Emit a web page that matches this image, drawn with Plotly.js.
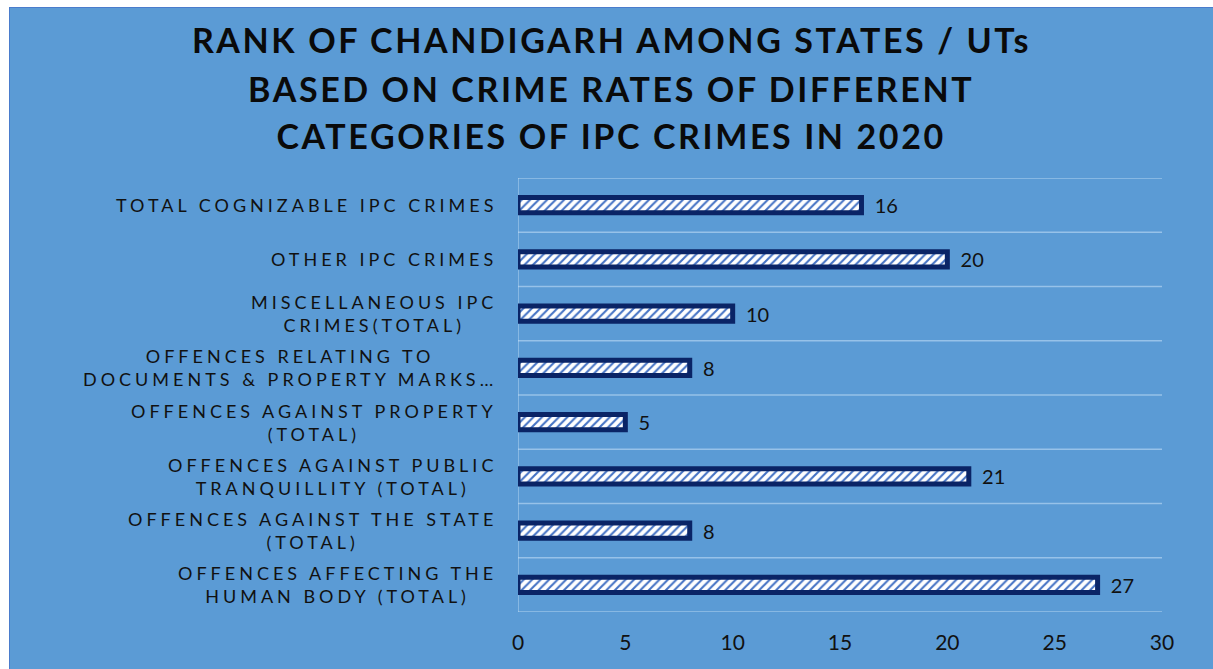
<!DOCTYPE html>
<html>
<head>
<meta charset="utf-8">
<script src="https://cdn.plot.ly/plotly-3.0.1.min.js"></script>
<style>
  html, body { margin: 0; padding: 0; background: #ffffff; }
  #chart { position: absolute; left: 9px; top: 7px; width: 1204px; height: 662px;
           border-top: 1px solid #4a7ccc; border-left: 1px solid #4a7ccc; box-sizing: border-box; }
  .annotation-text { letter-spacing: 4px; }
  .annotation[data-index="8"] .annotation-text,
  .annotation[data-index="9"] .annotation-text,
  .annotation[data-index="10"] .annotation-text { letter-spacing: 2.6px; }
</style>
</head>
<body>
<div id="chart"></div>
<script>
// Categories bottom-to-top
const categories = [
  "OFFENCES AFFECTING THE<br>HUMAN BODY (TOTAL)",
  "OFFENCES AGAINST THE STATE<br>(TOTAL)",
  "OFFENCES AGAINST PUBLIC<br>TRANQUILLITY (TOTAL)",
  "OFFENCES AGAINST PROPERTY<br>(TOTAL)",
  "OFFENCES RELATING TO<br>DOCUMENTS & PROPERTY MARKS…",
  "MISCELLANEOUS IPC<br>CRIMES(TOTAL)",
  "OTHER IPC CRIMES",
  "TOTAL COGNIZABLE IPC CRIMES"
];
const ranks = [27, 8, 21, 5, 8, 10, 20, 16];
const xTicks = [0, 5, 10, 15, 20, 25, 30];
const titleLines = [
  "RANK OF CHANDIGARH AMONG STATES / UTs",
  "BASED ON CRIME RATES OF DIFFERENT",
  "CATEGORIES OF IPC CRIMES IN 2020"
];

const FONT = "Lato, 'Open Sans', sans-serif";
const idx = categories.map((c, i) => i);
const boundaries = [-0.5].concat(idx.map(i => i + 0.5));
const GRID = 'rgba(200,225,250,0.55)';

const trace = {
  type: 'bar',
  orientation: 'h',
  x: ranks,
  y: idx,
  width: 0.28,
  marker: {
    color: '#ffffff',
    line: { color: '#0a2466', width: 5 },
    pattern: { shape: '/', fgcolor: '#4472c4', bgcolor: '#ffffff', size: 6, solidity: 0.35 }
  },
  text: ranks.map(v => '\u00a0\u00a0' + v),
  textposition: 'outside',
  constraintext: 'none',
  cliponaxis: false,
  textfont: { family: FONT, size: 20, color: '#111111' },
  hoverinfo: 'skip'
};

const annotations = categories.map((c, i) => ({
  xref: 'paper', yref: 'y', x: -0.029, y: i,
  xanchor: 'right', yanchor: 'middle', align: 'center',
  text: c,
  showarrow: false,
  font: { family: FONT, size: 18, color: '#111111' }
}));
const titleY = [1.318, 1.207, 1.099];
titleLines.forEach((t, k) => annotations.push({
  xref: 'paper', yref: 'paper', x: (601 - 508) / 644, y: titleY[k],
  xanchor: 'center', yanchor: 'middle', align: 'center',
  text: t, showarrow: false,
  font: { family: FONT, size: 34, color: '#0a0a0a', weight: 'bold' }
}));

const shapes = boundaries.map(b => ({
  type: 'line', xref: 'paper', yref: 'y', x0: 0, x1: 1, y0: b, y1: b,
  line: { color: GRID, width: 1.5 }, layer: 'below'
}));
shapes.push({
  type: 'line', xref: 'x', yref: 'paper', x0: 0, x1: 0, y0: 0, y1: 1,
  line: { color: GRID, width: 1.5 }, layer: 'below'
});

const layout = {
  width: 1203, height: 661,
  paper_bgcolor: '#5b9bd5',
  plot_bgcolor: 'rgba(0,0,0,0)',
  margin: { l: 508, r: 51, t: 170, b: 57 },
  showlegend: false,
  xaxis: {
    range: [0, 30],
    tickvals: xTicks,
    ticktext: xTicks.map(String),
    showgrid: false,
    zeroline: false,
    showline: false,
    ticks: '',
    ticklabelstandoff: 16,
    tickfont: { family: FONT, size: 21, color: '#111111' },
    fixedrange: true
  },
  yaxis: {
    type: 'linear',
    range: [-0.5, 7.5],
    showticklabels: false,
    showgrid: false,
    zeroline: false,
    showline: false,
    ticks: '',
    fixedrange: true
  },
  shapes: shapes,
  annotations: annotations,
  bargap: 0.7
};

Plotly.newPlot('chart', [trace], layout, { displayModeBar: false, staticPlot: true });
</script>
</body>
</html>
